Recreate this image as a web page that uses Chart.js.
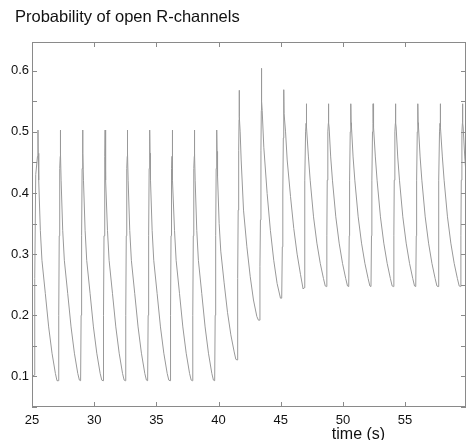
<!DOCTYPE html>
<html>
<head>
<meta charset="utf-8">
<script src="https://cdn.jsdelivr.net/npm/chart.js@4.4.0/dist/chart.umd.min.js"></script>
<style>
	html, body { margin: 0; padding: 0; background: #fff; }
	canvas { display: block; }
</style>
</head>
<body>
<canvas id="diagram" width="467" height="440"></canvas>
<script>
// trace, one line per spike (time in s, open probability)
const restTime = [
	25.00, 25.17, 25.22, 25.30, 25.44, 25.48, 25.50, 25.54, 25.67, 25.80, 26.07, 26.34, 26.61, 26.88, 27.01,
	27.11, 27.15, 27.19, 27.23, 27.27, 27.28, 27.30, 27.34, 27.47, 27.60, 27.87, 28.14, 28.41, 28.68, 28.81,
	28.91, 28.95, 28.99, 29.03, 29.07, 29.08, 29.10, 29.14, 29.27, 29.40, 29.67, 29.94, 30.21, 30.48, 30.61,
	30.71, 30.75, 30.79, 30.83, 30.87, 30.88, 30.90, 30.94, 31.07, 31.20, 31.47, 31.74, 32.01, 32.28, 32.41,
	32.50, 32.54, 32.58, 32.62, 32.66, 32.67, 32.69, 32.73, 32.86, 32.99, 33.26, 33.53, 33.80, 34.07, 34.20,
	34.30, 34.34, 34.38, 34.42, 34.46, 34.47, 34.49, 34.53, 34.66, 34.79, 35.06, 35.33, 35.60, 35.87, 36.00,
	36.10, 36.14, 36.18, 36.22, 36.26, 36.27, 36.29, 36.33, 36.46, 36.59, 36.86, 37.13, 37.40, 37.67, 37.80,
	37.89, 37.93, 37.97, 38.01, 38.05, 38.06, 38.08, 38.12, 38.25, 38.38, 38.65, 38.92, 39.19, 39.46, 39.59
];
const restP = [
	0.100, 0.102, 0.260, 0.430, 0.460, 0.503, 0.465, 0.421, 0.339, 0.290, 0.236, 0.181, 0.138, 0.105, 0.093,
	0.093, 0.200, 0.330, 0.440, 0.460, 0.503, 0.465, 0.421, 0.339, 0.290, 0.236, 0.181, 0.138, 0.105, 0.094,
	0.093, 0.200, 0.330, 0.440, 0.460, 0.503, 0.465, 0.421, 0.339, 0.290, 0.236, 0.181, 0.138, 0.105, 0.094,
	0.093, 0.200, 0.330, 0.440, 0.460, 0.503, 0.465, 0.421, 0.339, 0.290, 0.236, 0.181, 0.138, 0.105, 0.094,
	0.093, 0.200, 0.330, 0.440, 0.460, 0.503, 0.465, 0.421, 0.339, 0.290, 0.236, 0.181, 0.138, 0.105, 0.094,
	0.093, 0.200, 0.330, 0.440, 0.460, 0.503, 0.465, 0.421, 0.339, 0.290, 0.236, 0.181, 0.138, 0.105, 0.094,
	0.093, 0.200, 0.330, 0.440, 0.460, 0.503, 0.465, 0.421, 0.339, 0.290, 0.236, 0.181, 0.138, 0.105, 0.094,
	0.093, 0.200, 0.330, 0.440, 0.460, 0.503, 0.465, 0.421, 0.339, 0.290, 0.236, 0.181, 0.138, 0.105, 0.094
];

const shiftTime = [
	39.69, 39.73, 39.77, 39.81, 39.85, 39.86, 39.88, 39.92, 40.05, 40.18, 40.45, 40.72, 40.99, 41.26, 41.39,
	41.49, 41.54, 41.58, 41.62, 41.65, 41.66, 41.68, 41.74, 41.82, 42.01, 42.28, 42.55, 42.81, 43.08, 43.21,
	43.28, 43.33, 43.37, 43.41, 43.44, 43.45, 43.47, 43.51, 43.64, 43.91, 44.17, 44.44, 44.71, 44.98,
	45.08, 45.13, 45.17, 45.21, 45.24, 45.25, 45.27, 45.39, 45.52, 45.79, 46.05, 46.32, 46.59, 46.80
];
const shiftP = [
	0.093, 0.200, 0.330, 0.440, 0.460, 0.503, 0.468, 0.428, 0.350, 0.305, 0.253, 0.205, 0.168, 0.140, 0.128,
	0.127, 0.260, 0.372, 0.470, 0.520, 0.568, 0.525, 0.500, 0.454, 0.372, 0.312, 0.263, 0.225, 0.198, 0.192,
	0.192, 0.280, 0.356, 0.470, 0.535, 0.604, 0.550, 0.535, 0.475, 0.399, 0.339, 0.290, 0.252, 0.228,
	0.228, 0.312, 0.400, 0.490, 0.515, 0.569, 0.530, 0.500, 0.454, 0.394, 0.342, 0.300, 0.267, 0.243
];

const steadyTime = [
	46.88, 46.92, 46.95, 47.00, 47.04, 47.05, 47.07, 47.10, 47.23, 47.37, 47.64, 47.91, 48.18, 48.44, 48.58,
	48.67, 48.71, 48.74, 48.79, 48.83, 48.84, 48.86, 48.89, 49.02, 49.16, 49.43, 49.70, 49.97, 50.23, 50.37,
	50.47, 50.51, 50.54, 50.59, 50.63, 50.64, 50.66, 50.69, 50.82, 50.96, 51.23, 51.50, 51.77, 52.03, 52.17,
	52.26, 52.30, 52.33, 52.38, 52.42, 52.43, 52.45, 52.48, 52.61, 52.75, 53.02, 53.29, 53.56, 53.82, 53.96,
	54.06, 54.10, 54.13, 54.18, 54.22, 54.23, 54.25, 54.28, 54.41, 54.55, 54.82, 55.09, 55.36, 55.62, 55.76,
	55.86, 55.90, 55.93, 55.98, 56.02, 56.03, 56.05, 56.08, 56.21, 56.35, 56.62, 56.89, 57.16, 57.42, 57.56,
	57.65, 57.69, 57.72, 57.77, 57.81, 57.82, 57.84, 57.87, 58.00, 58.14, 58.41, 58.68, 58.95, 59.21, 59.35,
	59.45, 59.49, 59.52, 59.57, 59.61, 59.62, 59.64, 59.67, 59.80, 59.94, 60.00
];
const steadyP = [
	0.245, 0.330, 0.421, 0.500, 0.514, 0.546, 0.515, 0.508, 0.459, 0.421, 0.361, 0.318, 0.285, 0.260, 0.248,
	0.247, 0.330, 0.421, 0.500, 0.514, 0.546, 0.515, 0.508, 0.459, 0.421, 0.361, 0.318, 0.285, 0.260, 0.248,
	0.247, 0.330, 0.421, 0.500, 0.514, 0.546, 0.515, 0.508, 0.459, 0.421, 0.361, 0.318, 0.285, 0.260, 0.248,
	0.247, 0.330, 0.421, 0.500, 0.514, 0.546, 0.515, 0.508, 0.459, 0.421, 0.361, 0.318, 0.285, 0.260, 0.248,
	0.247, 0.330, 0.421, 0.500, 0.514, 0.546, 0.515, 0.508, 0.459, 0.421, 0.361, 0.318, 0.285, 0.260, 0.248,
	0.247, 0.330, 0.421, 0.500, 0.514, 0.546, 0.515, 0.508, 0.459, 0.421, 0.361, 0.318, 0.285, 0.260, 0.248,
	0.247, 0.330, 0.421, 0.500, 0.514, 0.546, 0.515, 0.508, 0.459, 0.421, 0.361, 0.318, 0.285, 0.260, 0.248,
	0.247, 0.330, 0.421, 0.500, 0.514, 0.546, 0.515, 0.508, 0.459, 0.421, 0.410
];

const xLabels = [25, 30, 35, 40, 45, 50, 55];
const yLabels = [0.1, 0.2, 0.3, 0.4, 0.5, 0.6];
const yMarks = [0.05, 0.1, 0.15, 0.2, 0.25, 0.3, 0.35, 0.4, 0.45, 0.5, 0.55, 0.6];

const FONT = '"Liberation Sans", Arial, sans-serif';

const allTime = restTime.concat(shiftTime, steadyTime);
const allP = restP.concat(shiftP, steadyP);
const points = allTime.map((t, i) => ({ x: t, y: allP[i] }));

// matlab style box with inward ticks, title and x label
const frame = {
	id: 'frame',
	afterDraw(chart) {
		const { ctx, chartArea: a, scales: { x, y } } = chart;
		ctx.save();
		ctx.strokeStyle = '#8a8a8a';
		ctx.lineWidth = 1;
		ctx.strokeRect(a.left + 0.5, a.top + 0.5, a.right - a.left - 1, a.bottom - a.top - 1);
		ctx.beginPath();
		yMarks.forEach(v => {
			const py = Math.round(y.getPixelForValue(v)) + 0.5;
			ctx.moveTo(a.left, py);
			ctx.lineTo(a.left + 5, py);
			ctx.moveTo(a.right, py);
			ctx.lineTo(a.right - 5, py);
		});
		xLabels.forEach(v => {
			const px = Math.round(x.getPixelForValue(v)) + 0.5;
			ctx.moveTo(px, a.bottom);
			ctx.lineTo(px, a.bottom - 5);
			ctx.moveTo(px, a.top);
			ctx.lineTo(px, a.top + 5);
		});
		ctx.stroke();

		ctx.fillStyle = '#111';
		ctx.textBaseline = 'alphabetic';
		ctx.textAlign = 'left';
		ctx.font = '16.5px ' + FONT;
		ctx.fillText('Probability of open R-channels', 15, 21.5);
		ctx.textAlign = 'center';
		ctx.font = '16px ' + FONT;
		ctx.fillText('time (s)', 358.5, 438.5);
		ctx.restore();
	}
};

new Chart(document.getElementById('diagram'), {
	type: 'line',
	data: {
		datasets: [{
			data: points,
			borderColor: '#999999',
			borderWidth: 1,
			pointRadius: 0,
			tension: 0,
			fill: false
		}]
	},
	options: {
		responsive: false,
		animation: false,
		devicePixelRatio: 1,
		layout: { padding: { left: 0, right: 1, top: 42, bottom: 0 } },
		plugins: {
			legend: { display: false },
			tooltip: { enabled: false },
			title: { display: false }
		},
		scales: {
			x: {
				type: 'linear',
				min: 25,
				max: 59.9,
				afterFit: scale => { scale.height = 33; },
				afterBuildTicks: scale => { scale.ticks = xLabels.map(v => ({ value: v })); },
				grid: { display: false, drawTicks: false },
				border: { display: false },
				ticks: {
					autoSkip: false,
					maxRotation: 0,
					padding: 6,
					color: '#111',
					font: { family: FONT, size: 13 },
					callback: v => String(v)
				}
			},
			y: {
				min: 0.05,
				max: 0.647,
				afterFit: scale => { scale.width = 32; },
				afterBuildTicks: scale => { scale.ticks = yLabels.map(v => ({ value: v })); },
				grid: { display: false, drawTicks: false },
				border: { display: false },
				ticks: {
					autoSkip: false,
					padding: 3,
					color: '#111',
					font: { family: FONT, size: 13 },
					callback: v => v.toFixed(1)
				}
			}
		}
	},
	plugins: [frame]
});
</script>
</body>
</html>
